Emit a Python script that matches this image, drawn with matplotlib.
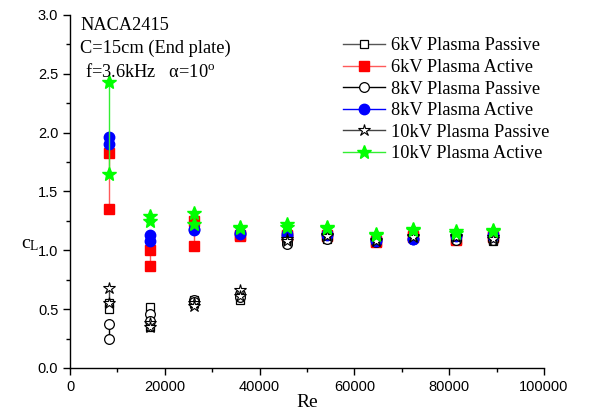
import matplotlib
matplotlib.use("Agg")
import matplotlib.pyplot as plt
from matplotlib.ticker import MultipleLocator

# ── Données ─────────────────────────────────────────────────────────────────
re_values = [8200, 16900, 26100, 35800, 45700, 54200, 64500, 72300, 81400, 89200]

cl_6kv_passive = [[0.55, 0.50], [0.52, 0.35], [0.58, 0.55], [0.62, 0.58], [1.08, 1.06],
                  [1.12, 1.10], [1.08, 1.07], [1.12, 1.10], [1.10, 1.09], [1.09, 1.08]]
cl_6kv_active = [[1.83, 1.35], [1.00, 0.87], [1.25, 1.04], [1.13, 1.12], [1.13, 1.12],
                 [1.13, 1.12], [1.08, 1.07], [1.12, 1.11], [1.10, 1.09], [1.12, 1.11]]
cl_8kv_passive = [[0.37, 0.25], [0.46, 0.40], [0.58, 0.56], [0.63, 0.60], [1.07, 1.05],
                  [1.11, 1.10], [1.08, 1.07], [1.10, 1.10], [1.10, 1.09], [1.10, 1.09]]
cl_8kv_active = [[1.96, 1.90], [1.13, 1.08], [1.18, 1.17], [1.15, 1.14], [1.14, 1.12],
                 [1.14, 1.13], [1.09, 1.08], [1.10, 1.10], [1.13, 1.12], [1.13, 1.12]]
cl_10kv_passive = [[0.68, 0.55], [0.38, 0.35], [0.55, 0.53], [0.66, 0.61], [1.10, 1.08],
                   [1.13, 1.12], [1.09, 1.08], [1.12, 1.11], [1.12, 1.11], [1.11, 1.10]]
cl_10kv_active = [[2.43, 1.65], [1.29, 1.25], [1.32, 1.22], [1.20, 1.19], [1.22, 1.20],
                  [1.20, 1.19], [1.14, 1.13], [1.18, 1.17], [1.16, 1.15], [1.17, 1.16]]

labels = ["6kV Plasma Passive", "6kV Plasma Active", "8kV Plasma Passive",
          "8kV Plasma Active", "10kV Plasma Passive", "10kV Plasma Active"]

# ── Styles ──────────────────────────────────────────────────────────────────
plt.rcParams["mathtext.fontset"] = "custom"
plt.rcParams["mathtext.rm"] = "Liberation Serif"
plt.rcParams["mathtext.it"] = "Liberation Serif:italic"

SERIF = "Liberation Serif"
SANS = "Liberation Sans"
TXT = 13.2

series = [
    (cl_6kv_passive, dict(color="#555555", marker="s", ms=6, mfc="white", mec="black", mew=0.9)),
    (cl_6kv_active, dict(color="#ff5a5a", marker="s", ms=6.5, mfc="red", mec="red")),
    (cl_8kv_passive, dict(color="black", marker="o", ms=7, mfc="white", mec="black", mew=0.9)),
    (cl_8kv_active, dict(color="blue", marker="o", ms=7.5, mfc="blue", mec="blue")),
    (cl_10kv_passive, dict(color="#444444", marker="*", ms=9, mfc="white", mec="black", mew=0.8)),
    (cl_10kv_active, dict(color="#33ee33", marker="*", ms=10, mfc="#00ff00", mec="#00ff00")),
]

fig = plt.figure(figsize=(5.89, 4.15), dpi=100)
ax = fig.add_axes([0.119, 0.1133, 0.8047, 0.8506])

for (values, style), label in zip(series, labels):
    for i, (re, pair) in enumerate(zip(re_values, values)):
        ax.plot([re] * len(pair), pair, lw=1.0,
                label=label if i == 0 else None, **style)

ax.set_xlim(0, 100000)
ax.set_ylim(0, 3.0)
ax.xaxis.set_major_locator(MultipleLocator(20000))
ax.xaxis.set_minor_locator(MultipleLocator(10000))
ax.yaxis.set_major_locator(MultipleLocator(0.5))
ax.yaxis.set_minor_locator(MultipleLocator(0.25))
ax.yaxis.set_major_formatter(plt.FormatStrFormatter("%.1f"))
ax.tick_params(which="major", direction="out", length=5, width=1, labelsize=10.5)
ax.tick_params(which="minor", direction="out", length=3, width=1)
for t in ax.get_xticklabels() + ax.get_yticklabels():
    t.set_fontfamily(SANS)
for side in ("top", "right"):
    ax.spines[side].set_visible(False)
for side in ("left", "bottom"):
    ax.spines[side].set_linewidth(1.0)

ax.set_xlabel("Re", fontsize=14, family=SERIF, labelpad=0)
ax.set_ylabel(r"c$_\mathrm{L}$", fontsize=14, family=SERIF, rotation=0,
              ha="center", va="center")
ax.yaxis.set_label_coords(-0.084, 0.35)

fig.text(0.136, 0.960, "NACA2415", family=SERIF, fontsize=TXT, va="top")
fig.text(0.136, 0.904, "C=15cm (End plate)", family=SERIF, fontsize=TXT, va="top")
fig.text(0.144, 0.848, r"f=3.6kHz   α=10$^{\mathrm{o}}$", family=SERIF, fontsize=TXT, va="top")

ax.legend(loc="upper left", bbox_to_anchor=(0.56, 0.957), frameon=False,
          prop={"family": SERIF, "size": TXT}, handlelength=2.3, handletextpad=0.3,
          labelspacing=0.25, borderaxespad=0)

fig.savefig("out.png", dpi=100)
